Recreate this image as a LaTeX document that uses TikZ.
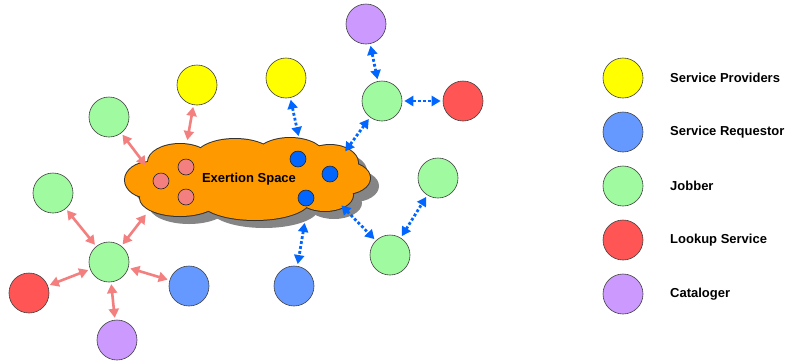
\documentclass[tikz,border=0pt]{standalone}
\usepackage{fontspec}
\setmainfont{Liberation Sans}
\usetikzlibrary{arrows.meta}
\definecolor{cyellow}{HTML}{FFFF00}
\definecolor{cblue}{HTML}{6699FF}
\definecolor{cgreen}{HTML}{A0FAA0}
\definecolor{cred}{HTML}{FF5555}
\definecolor{cpurple}{HTML}{CC99FF}
\definecolor{corange}{HTML}{FF9900}
\definecolor{cpink}{HTML}{F47F7F}
\definecolor{cdblue}{HTML}{0066FF}
\definecolor{cshadow}{HTML}{858585}
\begin{document}
\begin{tikzpicture}[x=1pt,y=-1pt,
  ent/.style={circle,draw=black!75,line width=0.6pt,minimum size=40pt,inner sep=0pt},
  dotnode/.style={circle,draw=black!85,line width=0.6pt,minimum size=16pt,inner sep=0pt},
  pinkarrow/.style={draw=cpink,line width=2.6pt,{Triangle[length=9pt,width=10pt]}-{Triangle[length=9pt,width=10pt]},shorten >=2pt,shorten <=2pt},
  bluearrow/.style={draw=cdblue,line width=2.8pt,dash pattern=on 2.8pt off 2.2pt,{Triangle[length=9pt,width=10pt]}-{Triangle[length=9pt,width=10pt]},shorten >=2pt,shorten <=2pt},
  lab/.style={anchor=west,inner sep=0pt,font=\fontsize{13}{15}\selectfont\bfseries}]
\useasboundingbox (0,0) rectangle (785,360);
\fill[white] (0,0) rectangle (785,360);
% cloud
\def\cloudparts{150/180/25/18, 180/162/32/18, 235/158/40/19, 290/157/35/19, 330/163/28/18, 345/178/25/16, 325/195/28/16, 255/200/55/20, 180/198/40/18, 245/180/90/25}
\foreach \cx/\cy/\rx/\ry in \cloudparts
  \fill[cshadow] (\cx+9,\cy+8) ellipse [x radius=\rx pt, y radius=\ry pt];
\foreach \cx/\cy/\rx/\ry in \cloudparts
  \draw[black!80,line width=2pt] (\cx,\cy) ellipse [x radius=\rx pt, y radius=\ry pt];
\foreach \cx/\cy/\rx/\ry in \cloudparts
  \fill[corange] (\cx,\cy) ellipse [x radius=\rx pt, y radius=\ry pt];
\node[font=\fontsize{13}{15}\selectfont\bfseries] (title) at (249,179) {Exertion Space};
\node[dotnode,fill=cpink] (p1) at (186,167) {};
\node[dotnode,fill=cpink] (p2) at (161,181) {};
\node[dotnode,fill=cpink] (p3) at (186,197) {};
\node[dotnode,fill=cdblue] (b1) at (298,159) {};
\node[dotnode,fill=cdblue] (b2) at (330,174) {};
\node[dotnode,fill=cdblue] (b3) at (306,198) {};
% cloud attachment points
\coordinate (c1) at (187,142);
\coordinate (c2) at (147,167);
\coordinate (c3) at (147,213);
\coordinate (c4) at (299,138);
\coordinate (c5) at (344,153);
\coordinate (c6) at (340,204);
\coordinate (c7) at (305,221);
% entities
\node[ent,fill=cyellow] (sp1) at (197,85) {};
\node[ent,fill=cgreen] (jb1) at (109,117) {};
\node[ent,fill=cgreen] (jb2) at (53,193) {};
\node[ent,fill=cgreen] (jb3) at (109,262) {};
\node[ent,fill=cred] (ls1) at (29,293) {};
\node[ent,fill=cblue] (sr1) at (189,286) {};
\node[ent,fill=cpurple] (cat1) at (117,340) {};
\node[ent,fill=cpurple] (cat2) at (366,24) {};
\node[ent,fill=cyellow] (sp2) at (286,78) {};
\node[ent,fill=cgreen] (jb4) at (382,101) {};
\node[ent,fill=cred] (ls2) at (463,101) {};
\node[ent,fill=cgreen] (jb5) at (438,178) {};
\node[ent,fill=cgreen] (jb6) at (390,255) {};
\node[ent,fill=cblue] (sr2) at (294,286) {};
% pink arrows
\draw[pinkarrow] (sp1) -- (c1);
\draw[pinkarrow] (jb1) -- (c2);
\draw[pinkarrow] (jb2) -- (jb3);
\draw[pinkarrow] (jb3) -- (c3);
\draw[pinkarrow] (jb3) -- (ls1);
\draw[pinkarrow] (jb3) -- (sr1);
\draw[pinkarrow] (jb3) -- (cat1);
% blue arrows
\draw[bluearrow] (sp2) -- (c4);
\draw[bluearrow] (jb4) -- (c5);
\draw[bluearrow] (cat2) -- (jb4);
\draw[bluearrow] (jb4) -- (ls2);
\draw[bluearrow] (c6) -- (jb6);
\draw[bluearrow] (jb6) -- (jb5);
\draw[bluearrow] (c7) -- (sr2);
% legend
\node[ent,fill=cyellow] (lg1) at (623,78) {};
\node[ent,fill=cblue] (lg2) at (623,132) {};
\node[ent,fill=cgreen] (lg3) at (623,186) {};
\node[ent,fill=cred] (lg4) at (623,240) {};
\node[ent,fill=cpurple] (lg5) at (623,294) {};
\node[lab] (t1) at (670,78) {Service Providers};
\node[lab] (t2) at (670,132) {Service Requestor};
\node[lab] (t3) at (670,186) {Jobber};
\node[lab] (t4) at (670,240) {Lookup Service};
\node[lab] (t5) at (670,294) {Cataloger};
\end{tikzpicture}
\end{document}
